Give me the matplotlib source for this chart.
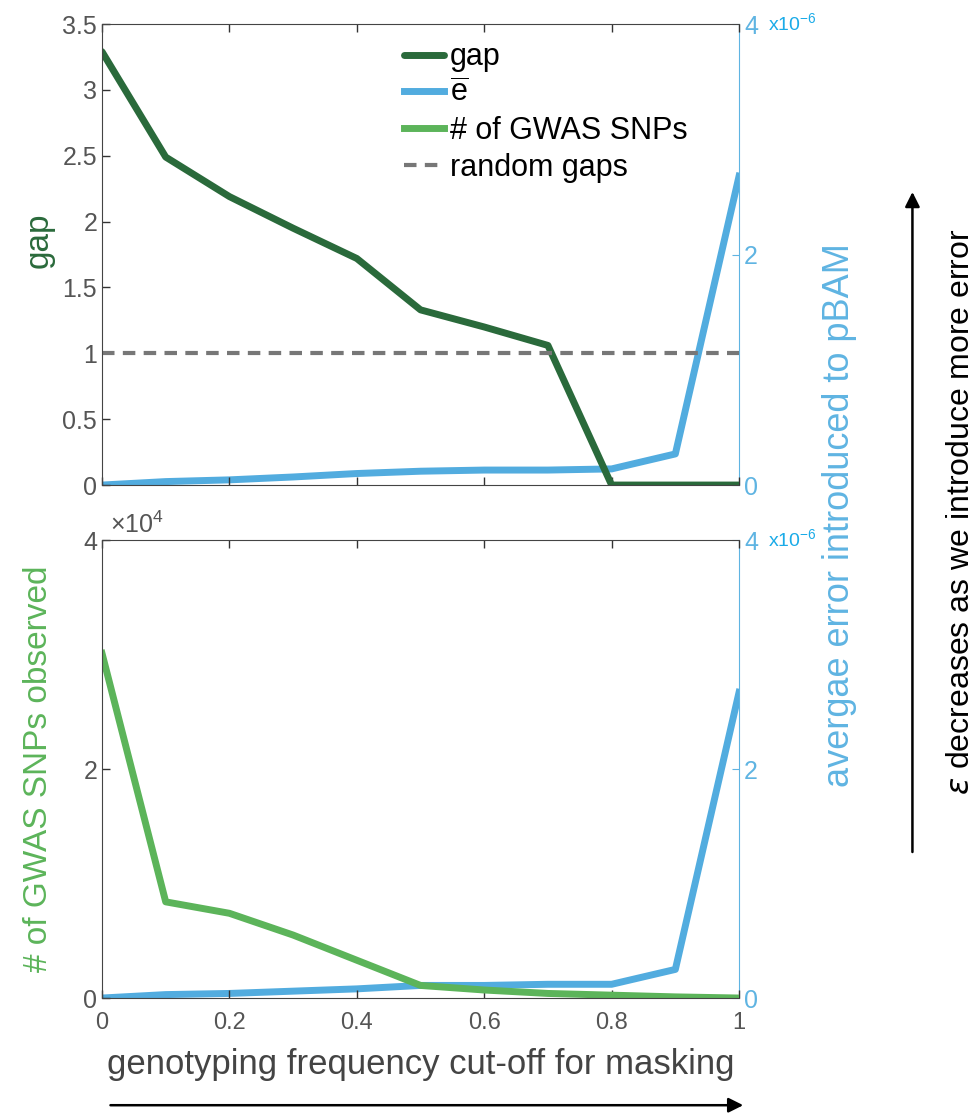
import matplotlib
matplotlib.use('Agg')
import matplotlib.pyplot as plt

# data
cutoff = [0, 0.1, 0.2, 0.3, 0.4, 0.5, 0.6, 0.7, 0.8, 0.9, 1.0]
gap = [3.29, 2.49, 2.19, 1.95, 1.72, 1.33, 1.20, 1.06, 0.0, 0.0, 0.0]
err_top = [0.0, 0.03, 0.045, 0.07, 0.10, 0.12, 0.13, 0.13, 0.14, 0.27, 2.68]
gwas = [3.01, 0.84, 0.74, 0.55, 0.33, 0.11, 0.07, 0.04, 0.025, 0.01, 0.0]
err_bot = [0.0, 0.03, 0.04, 0.06, 0.08, 0.11, 0.11, 0.12, 0.12, 0.25, 2.67]
random_gap = 1.0

plt.rcParams['font.family'] = 'Liberation Sans'
plt.rcParams['mathtext.fontset'] = 'custom'
plt.rcParams['mathtext.rm'] = 'Liberation Sans'

c_gap = '#2a6a3b'
c_err = '#52acdf'
c_gwas = '#5cb45a'
c_rand = '#777777'
c_tick = '#555555'
c_right = '#5fb4e2'

fig = plt.figure(figsize=(9.79, 11.13), dpi=100)
ax1 = fig.add_axes([0.1042, 0.5642, 0.6507, 0.4142])
ax2 = fig.add_axes([0.1042, 0.1033, 0.6507, 0.4115])

def style(ax, rax):
    ax.set_xlim(0, 1)
    ax.set_xticks([0, 0.2, 0.4, 0.6, 0.8, 1])
    ax.tick_params(direction='in', length=6, width=1, colors='#333333',
                   labelcolor=c_tick, labelsize=15, top=True)
    for s in ['left', 'top', 'bottom']:
        ax.spines[s].set_color('#444444')
    ax.spines['right'].set_visible(False)
    rax.spines['right'].set_color(c_right)
    for s in ['left', 'top', 'bottom']:
        rax.spines[s].set_visible(False)
    rax.set_ylim(0, 4e-6)
    rax.set_yticks([0, 2e-6, 4e-6])
    rax.set_yticklabels(['0', '2', '4'])
    rax.tick_params(direction='in', length=5, colors=c_right,
                    labelcolor=c_right, labelsize=18)
    rax.text(1.045, 1.0, r'x10$^{-6}$', transform=rax.transAxes, color='#1aabe8',
             fontsize=14, ha='left', va='center')

# top panel
r1 = ax1.twinx()
ax1.set_zorder(r1.get_zorder() + 1)
ax1.patch.set_visible(False)
ax1.plot(cutoff, gap, color=c_gap, lw=5, label='gap', solid_capstyle='round')
r1.plot(cutoff, [v * 1e-6 for v in err_top], color=c_err, lw=5)
ax1.plot([], [], color=c_err, lw=5, label=r'$\overline{\mathrm{e}}$')
ax1.plot([], [], color=c_gwas, lw=5, label='# of GWAS SNPs')
ax1.axhline(random_gap, color=c_rand, lw=3, ls=(0, (3, 2)), label='random gaps')
ax1.set_ylim(0, 3.5)
ax1.set_yticks([0, 0.5, 1, 1.5, 2, 2.5, 3, 3.5])
ax1.set_yticklabels(['0', '0.5', '1', '1.5', '2', '2.5', '3', '3.5'])
ax1.set_xticklabels([])
ax1.set_ylabel('gap', color=c_gap, fontsize=24)
ax1.yaxis.set_label_coords(-0.075, 0.53)
style(ax1, r1)
ax1.tick_params(axis='y', labelsize=18)
ax1.legend(loc='upper left', bbox_to_anchor=(0.445, 1.0), frameon=False, fontsize=22,
           handlelength=1.3, handletextpad=0.2, labelspacing=0.22, borderaxespad=0.2)

# bottom panel
r2 = ax2.twinx()
ax2.set_zorder(r2.get_zorder() + 1)
ax2.patch.set_visible(False)
ax2.plot(cutoff, gwas, color=c_gwas, lw=5)
r2.plot(cutoff, [v * 1e-6 for v in err_bot], color=c_err, lw=5)
ax2.set_ylim(0, 4)
ax2.set_yticks([0, 2, 4])
ax2.set_yticklabels(['0', '2', '4'])
ax2.set_xticklabels(['0', '0.2', '0.4', '0.6', '0.8', '1'])
ax2.set_ylabel('# of GWAS SNPs observed', color=c_gwas, fontsize=24)
ax2.yaxis.set_label_coords(-0.075, 0.5)
ax2.set_xlabel('genotyping frequency cut-off for masking', color='#444444', fontsize=25,
               labelpad=10)
style(ax2, r2)
ax2.tick_params(axis='y', labelsize=18)
ax2.tick_params(axis='x', labelsize=17, pad=10)
ax2.text(0.012, 1.005, r'$\times$10$^4$', transform=ax2.transAxes, color=c_tick,
         fontsize=18, ha='left', va='bottom')

fig.text(0.857, 0.537, 'avergae error introduced to pBAM', rotation=90, color=c_right,
         fontsize=26, ha='center', va='center')

# annotation arrows
fig.patches.append(matplotlib.patches.FancyArrowPatch(
    (0.932, 0.232), (0.932, 0.83), transform=fig.transFigure,
    arrowstyle='-|>', mutation_scale=22, lw=1.8, color='black'))
fig.patches.append(matplotlib.patches.FancyArrowPatch(
    (0.11, 0.007), (0.762, 0.007), transform=fig.transFigure,
    arrowstyle='-|>', mutation_scale=22, lw=1.8, color='black'))
fig.text(0.982, 0.54, r'$\varepsilon$ decreases as we introduce more error', rotation=90,
         fontsize=23, ha='center', va='center')

fig.savefig('out.png', dpi=100)
